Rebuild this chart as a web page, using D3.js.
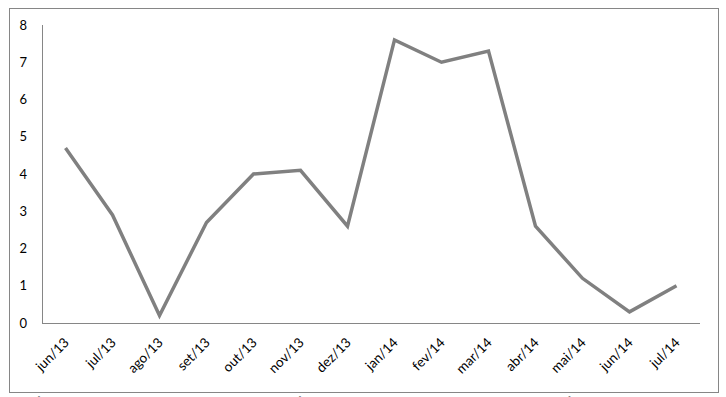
<!DOCTYPE html>
<html>
<head>
<meta charset="utf-8">
<script src="https://cdn.jsdelivr.net/npm/d3@7"></script>
<style>
  body { margin: 0; background: #fff; }
  text { font-family: Lato, "Open Sans", sans-serif; fill: #000; }
</style>
</head>
<body>
<script>
const months = ["jun/13","jul/13","ago/13","set/13","out/13","nov/13","dez/13","jan/14","fev/14","mar/14","abr/14","mai/14","jun/14","jul/14"];
const values = [4.7, 2.9, 0.2, 2.7, 4.0, 4.1, 2.6, 7.6, 7.0, 7.3, 2.6, 1.2, 0.3, 1.0];
const yTicks = [0, 1, 2, 3, 4, 5, 6, 7, 8];

const w = 726, h = 397;
const svg = d3.select("body").append("svg").attr("width", w).attr("height", h);

// outer frame
svg.append("rect")
  .attr("x", 9.5).attr("y", 8.5)
  .attr("width", 709).attr("height", 384)
  .attr("fill", "none").attr("stroke", "#868686").attr("stroke-width", 1);

const x = d3.scaleBand().domain(months).range([42, 700]);
const y = d3.scaleLinear().domain([0, 8]).range([323, 25]);

// axis lines
svg.append("line")
  .attr("x1", 42.5).attr("x2", 42.5).attr("y1", y(8)).attr("y2", y(0))
  .attr("stroke", "#868686");
svg.append("line")
  .attr("x1", 42).attr("x2", 700).attr("y1", y(0) + 0.5).attr("y2", y(0) + 0.5)
  .attr("stroke", "#868686");

// y tick labels
svg.selectAll(".ylab").data(yTicks).enter().append("text")
  .attr("class", "ylab")
  .attr("x", 27).attr("y", d => y(d))
  .attr("dy", "0.35em")
  .attr("text-anchor", "end")
  .style("font-size", "13px")
  .text(d => d);

// x tick labels rotated
svg.selectAll(".xlab").data(months).enter().append("text")
  .attr("class", "xlab")
  .attr("transform", d => "translate(" + (x(d) + x.bandwidth() / 2 + 1) + "," + 340 + ") rotate(-45)")
  .attr("text-anchor", "end")
  .attr("dy", "0.35em")
  .style("font-size", "13.5px")
  .text(d => d);

// the line
const line = d3.line()
  .x((d, i) => x(months[i]) + x.bandwidth() / 2)
  .y(d => y(d));
svg.append("path")
  .datum(values)
  .attr("d", line)
  .attr("fill", "none")
  .attr("stroke", "#808080")
  .attr("stroke-width", 3.5)
  .attr("stroke-linejoin", "miter");

// clipped accents of the next text line
const accents = [["É", 33], ["Ã", 234], ["É", 294], ["Í", 566]];
svg.selectAll(".acc").data(accents).enter().append("text")
  .attr("x", d => d[1]).attr("y", 409)
  .style("font-size", "14px")
  .text(d => d[0]);
</script>
</body>
</html>
